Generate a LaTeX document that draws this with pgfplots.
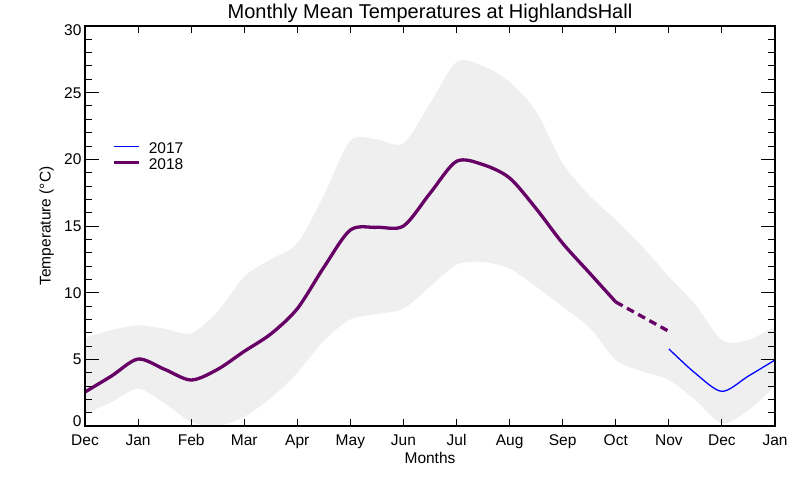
\documentclass[border=0pt]{standalone}
\usepackage{fontspec}
\setmainfont{Liberation Sans}
\usepackage{pgfplots}
\pgfplotsset{compat=1.18}
\usepgfplotslibrary{fillbetween}
\usepackage{pgfplotstable}

\definecolor{band}{RGB}{239,239,239}
\definecolor{purp}{RGB}{102,0,102}

\pgfplotstableread{
x up lo
0 6.6 0.9
0.5 7.2 1.8
1 7.55 2.8
1.5 7.3 1.7
2 6.95 0.3
2.5 8.6 0.0
3 11.2 0.7
3.5 12.5 2.1
4 13.7 4.0
4.5 17.3 6.4
5 21.4 8.0
5.5 21.5 8.4
6 21.2 8.8
6.5 24.2 10.45
7 27.3 12.1
7.5 27.0 12.3
8 25.8 11.8
8.5 23.6 10.45
9 19.7 8.95
9.5 17.3 7.4
10 15.45 4.95
10.5 13.45 4.1
11 11.2 3.45
11.5 9.1 1.95
12 6.45 0.2
12.5 6.45 1.2
13 7.5 3.0
}\bandtab

\pgfplotstableread{
x t
0 2.55
0.5 3.75
1 5.02
1.5 4.25
2 3.45
2.5 4.25
3 5.6
3.5 6.9
4 8.8
4.5 11.9
5 14.7
5.5 14.9
6 15.0
6.5 17.45
7 19.85
7.5 19.6
8 18.6
8.5 16.3
9 13.7
9.5 11.5
10 9.3
}\tabB

\pgfplotstableread{
x t
11 5.78
11.5 3.95
12 2.6
12.5 3.75
13 4.95
}\tabA

\begin{document}
\begin{tikzpicture}
\begin{axis}[
  width=690pt, height=400pt, scale only axis,
  at={(0pt,0pt)}, anchor=south west,
  xmin=0, xmax=13, ymin=0, ymax=30,
  axis on top,
  axis line style={line width=1.2pt, black},
  tick style={line width=1pt, black},
  tick align=inside,
  major tick length=14pt, minor tick length=7pt,
  xtick style={/pgfplots/major tick length=7pt},
  xtick={0,...,13},
  xticklabels={Dec,Jan,Feb,Mar,Apr,May,Jun,Jul,Aug,Sep,Oct,Nov,Dec,Jan},
  ytick={0,5,...,30},
  yticklabels={{\raisebox{5pt}[\height][\depth]{0}},5,10,15,20,25,{\raisebox{-4.5pt}[\height][\depth]{30}}},
  minor y tick num=4,
  /pgf/number format/assume math mode=true,
  tick label style={font=\fontsize{15.5}{18}\selectfont},
  xticklabel style={anchor=base, yshift=-19.7pt},
  label style={font=\fontsize{15.5}{18}\selectfont},
  title={Monthly Mean Temperatures at HighlandsHall},
  title style={font=\fontsize{20}{24}\selectfont, at={(axis description cs:0.5,1)}, anchor=base, yshift=1.7pt, inner sep=0pt},
  xlabel={Months},
  xlabel style={at={(axis description cs:0.5,0)}, anchor=base, yshift=-37.3pt, inner sep=0pt},
  ylabel={Temperature (°C)},
  ylabel style={at={(axis description cs:-0.0497,0.5)}, anchor=base, inner sep=0pt},
  legend style={at={(axis description cs:0.0387,0.70925)}, anchor=north west, draw=none, fill=none,
    inner sep=0pt, row sep=4.5pt, column sep=0pt, font=\fontsize{15.5}{15.5}\selectfont,
    cells={anchor=west},
    nodes={inner sep=0pt, text height=11pt, text depth=0pt}},
  legend image code/.code={\draw[#1] (0pt,1.2pt) -- (25.6pt,1.2pt); \path (33.6pt,0pt);},
]
\addplot[name path=up, draw=none, smooth, forget plot] table[x=x,y=up]{\bandtab};
\addplot[name path=lo, draw=none, smooth, forget plot] table[x=x,y=lo]{\bandtab};
\addplot[fill=band, draw=none, forget plot] fill between[of=up and lo];

\addplot[purp, line width=3.3pt, smooth, forget plot] table[x=x,y=t]{\tabB};
\addplot[purp, line width=3.3pt, dash pattern=on 7.8pt off 5pt, forget plot] coordinates {(10,9.3) (11,7.1)};
\addplot[blue, line width=1.3pt, smooth, forget plot] table[x=x,y=t]{\tabA};

\addlegendimage{blue, line width=1.3pt}
\addlegendentry{2017}
\addlegendimage{purp, line width=3.3pt}
\addlegendentry{2018}
\end{axis}
\pgfresetboundingbox
\path (-85pt,-54pt) rectangle (715pt,426pt);
\end{tikzpicture}
\end{document}
